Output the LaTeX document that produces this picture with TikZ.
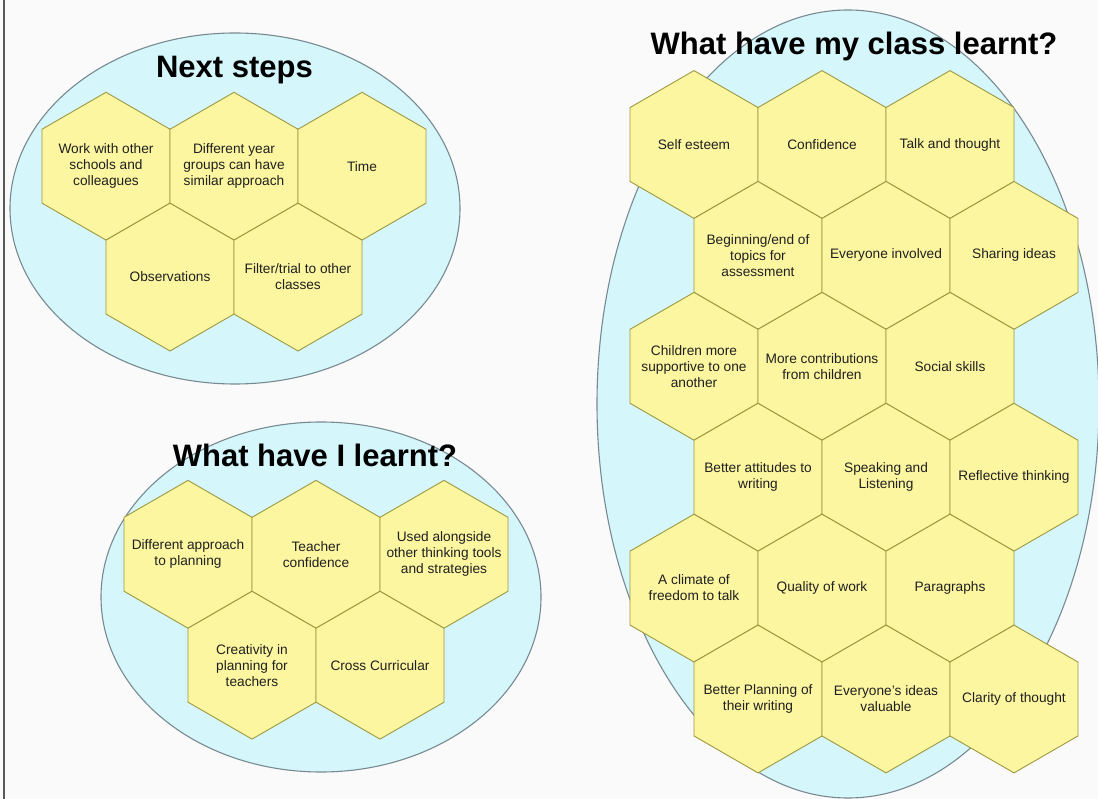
\documentclass[tikz,border=0pt]{standalone}
\usepackage{fontspec}
\setmainfont{Liberation Sans}
\usepackage{tikz}
\usepackage{xcolor}
\usetikzlibrary{shapes.geometric,positioning}
\definecolor{pagewhite}{RGB}{250,250,250}
\definecolor{skyfill}{RGB}{213,246,251}
\definecolor{skyline}{RGB}{120,138,145}
\definecolor{honeyfill}{RGB}{252,246,160}
\definecolor{honeyline}{RGB}{158,152,64}
\definecolor{inkgray}{RGB}{32,32,32}

\tikzset{
    celltext/.style={align=center, text=inkgray, font=\fontsize{13.7}{16}\selectfont},
    cell/.style={regular polygon, regular polygon sides=6, shape border rotate=30,
        minimum size=147.8pt, inner sep=0pt, draw=honeyline, fill=honeyfill, line width=0.9pt,
        label={[celltext]center:#1}},
    heading/.style={anchor=base, text=black, font=\fontsize{31}{36}\selectfont\bfseries},
    blob/.style={draw=skyline, fill=skyfill, line width=1.1pt}
}

\begin{document}
\begin{tikzpicture}[x=1pt, y=-1pt]
    % Page
    \fill[pagewhite] (0,0) rectangle (1098,799);
    \useasboundingbox (0,0) rectangle (1098,799);
    \draw[black!65, line width=1.5pt] (4,0) -- (4,799);

    % Ellipses
    \draw[blob] (235,208.5) ellipse [x radius=225pt, y radius=175.5pt];
    \draw[blob] (321,597) ellipse [x radius=220pt, y radius=175pt];
    \draw[blob] (848,404) ellipse [x radius=251pt, y radius=394pt];

    % Next steps
    \node[heading] (tn) at (234.5,78) {Next steps};
    \node[cell={Work with other\\schools and\\colleagues}] (n1) at (106,166.2) {};
    \node[cell={Different year\\groups can have\\similar approach}] (n2) at (234,166.2) {};
    \node[cell={Time}] (n3) at (362,166.2) {};
    \node[cell={Observations}] (n4) at (170,277.1) {};
    \node[cell={Filter/trial to other\\classes}] (n5) at (298,277.1) {};

    % What have I learnt?
    \node[heading] (ti) at (315,466.7) {What have I learnt?};
    \node[cell={Different approach\\to planning}] (i1) at (188,554.3) {};
    \node[cell={Teacher\\confidence}] (i2) at (316,554.3) {};
    \node[cell={Used alongside\\other thinking tools\\and strategies}] (i3) at (444,554.3) {};
    \node[cell={Creativity in\\planning for\\teachers}] (i4) at (252,665.2) {};
    \node[cell={Cross Curricular}] (i5) at (380,665.2) {};

    % What have my class learnt?
    \node[heading] (tc) at (854,55) {What have my class learnt?};
    \node[cell={Self esteem}] (c1) at (694,144.5) {};
    \node[cell={Confidence}] (c2) at (822,144.5) {};
    \node[cell={Talk and thought}] (c3) at (950,144.5) {};
    \node[cell={Beginning/end of\\topics for\\assessment}] (c4) at (758,255.4) {};
    \node[cell={Everyone involved}] (c5) at (886,255.4) {};
    \node[cell={Sharing ideas}] (c6) at (1014,255.4) {};
    \node[cell={Children more\\supportive to one\\another}] (c7) at (694,366.3) {};
    \node[cell={More contributions\\from children}] (c8) at (822,366.3) {};
    \node[cell={Social skills}] (c9) at (950,366.3) {};
    \node[cell={Better attitudes to\\writing}] (c10) at (758,477.2) {};
    \node[cell={Speaking and\\Listening}] (c11) at (886,477.2) {};
    \node[cell={Reflective thinking}] (c12) at (1014,477.2) {};
    \node[cell={A climate of\\freedom to talk}] (c13) at (694,588.1) {};
    \node[cell={Quality of work}] (c14) at (822,588.1) {};
    \node[cell={Paragraphs}] (c15) at (950,588.1) {};
    \node[cell={Better Planning of\\their writing}] (c16) at (758,699) {};
    \node[cell={Everyone's ideas\\valuable}] (c17) at (886,699) {};
    \node[cell={Clarity of thought}] (c18) at (1014,699) {};
\end{tikzpicture}
\end{document}
